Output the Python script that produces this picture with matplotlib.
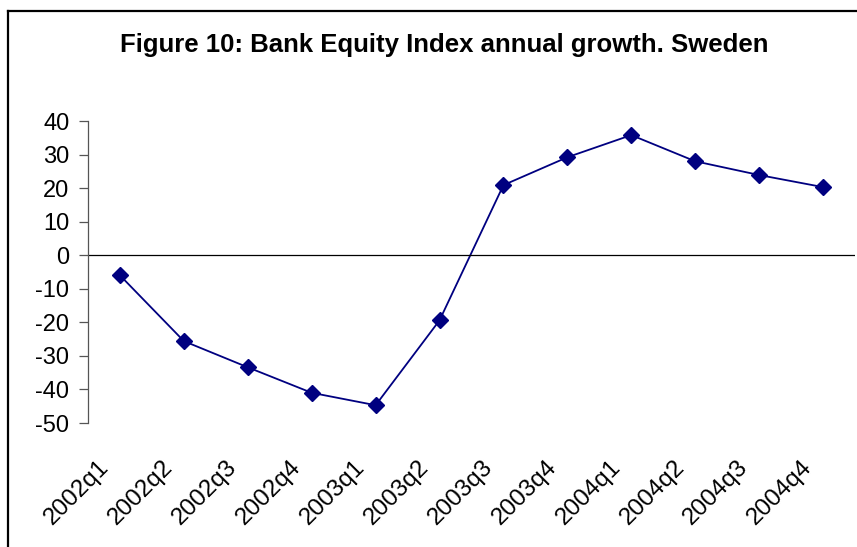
import matplotlib.pyplot as plt
from matplotlib.lines import Line2D
from matplotlib.transforms import ScaledTranslation

# Data
quarters = ['2002q1', '2002q2', '2002q3', '2002q4', '2003q1', '2003q2',
            '2003q3', '2003q4', '2004q1', '2004q2', '2004q3', '2004q4']
growth = [-6.0, -25.6, -33.4, -41.0, -44.7, -19.4,
          20.9, 29.2, 35.8, 28.0, 23.9, 20.3]
yticks = [-50, -40, -30, -20, -10, 0, 10, 20, 30, 40]

plt.rcParams['font.family'] = ['Liberation Sans', 'DejaVu Sans']

fig = plt.figure(figsize=(8.57, 5.47), dpi=100)
ax = fig.add_axes([88/857, 1 - 423/547, (855 - 88)/857, (423 - 121)/547])

x = range(len(quarters))
ax.plot(x, growth, color='#000080', lw=1.3, marker='D', markersize=8.5)
ax.axhline(0, color='black', lw=0.9)

ax.set_xlim(-0.5, len(quarters) - 0.5)
ax.set_ylim(-50, 40)
ax.set_yticks(yticks)
ax.set_yticklabels([str(v) for v in yticks], fontsize=17)
ax.set_xticks(list(x))
ax.set_xticklabels(quarters, fontsize=17.5, rotation=45, ha='right',
                   rotation_mode='anchor')
ax.tick_params(axis='x', length=0, pad=24)
ax.tick_params(axis='y', length=6.5, width=0.9, color='#555555', pad=7)

# nudge category labels left, like the original
shift = ScaledTranslation(-22/100, 0, fig.dpi_scale_trans)
for lab in ax.get_xticklabels():
    lab.set_transform(lab.get_transform() + shift)

for s in ['top', 'right', 'bottom']:
    ax.spines[s].set_visible(False)
ax.spines['left'].set_color('#555555')
ax.spines['left'].set_linewidth(0.9)

fig.text(444/857, 1 - 52/547, "Figure 10: Bank Equity Index annual growth. Sweden",
         ha='center', va='baseline', fontsize=18.5, fontweight='bold')

# outer chart border (top and left only, rest cropped)
fig.add_artist(Line2D([8/857, 8/857], [0, 1 - 11/547], color='black', lw=1.6,
                      transform=fig.transFigure))
fig.add_artist(Line2D([8/857, 1], [1 - 11/547, 1 - 11/547], color='black', lw=1.6,
                      transform=fig.transFigure))

fig.savefig('out.png', dpi=100)
